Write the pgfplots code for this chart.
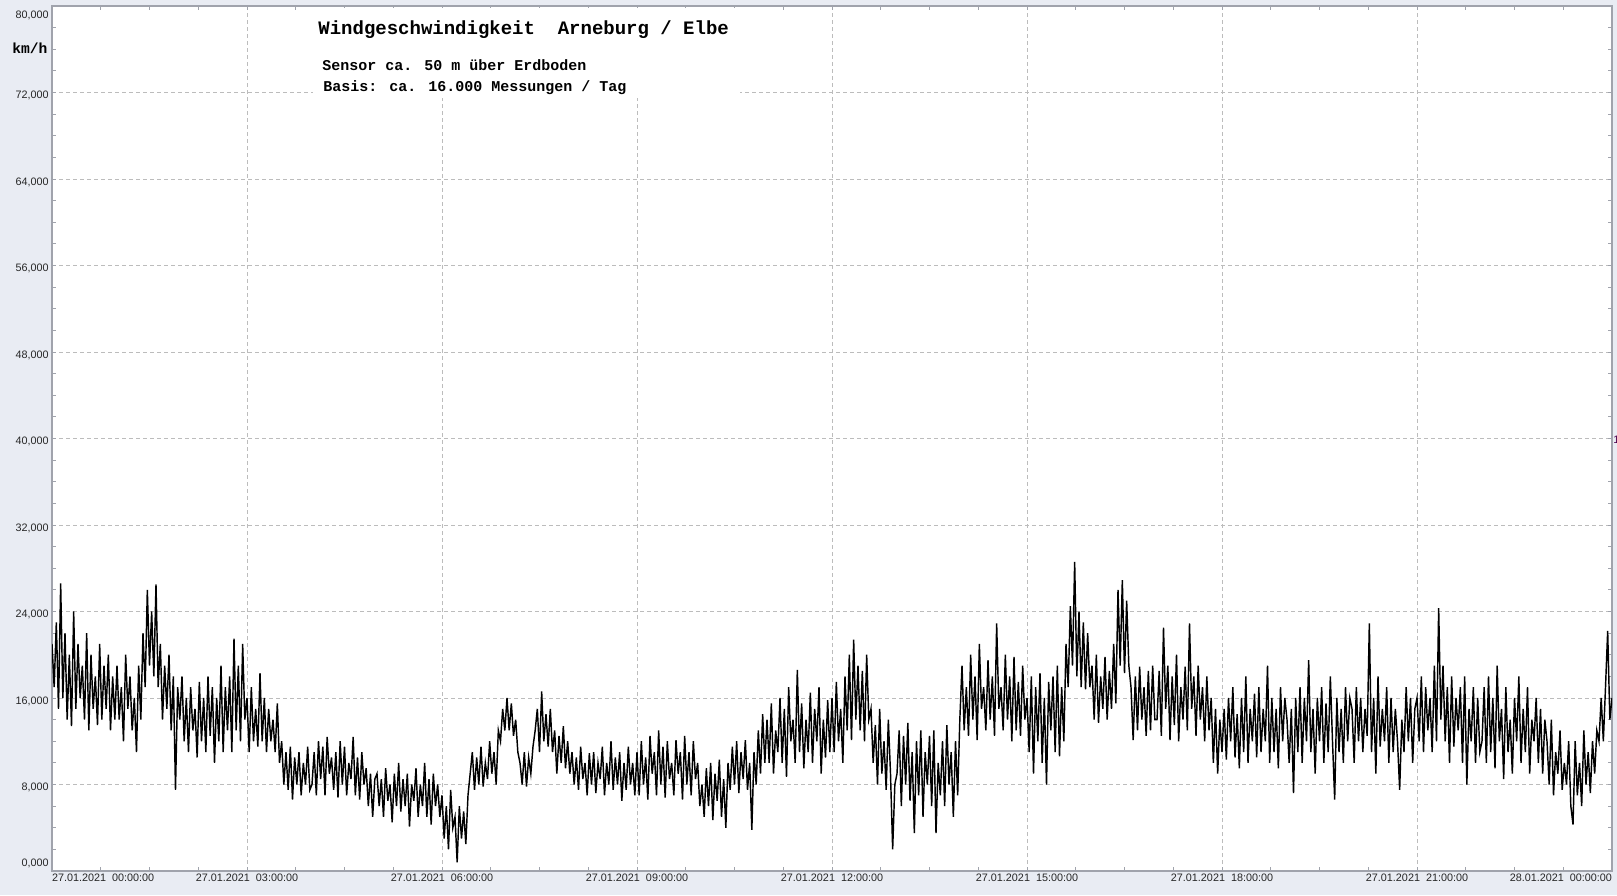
\documentclass[border=0pt]{standalone}
\usepackage{fontspec}
\setmainfont{Liberation Sans}
\newfontfamily\cour{Liberation Mono}
\usepackage{pgfplots}
\usepackage{pgfplotstable}
\pgfplotsset{compat=1.18}

\definecolor{bgpanel}{RGB}{233,236,243}
\definecolor{axgray}{RGB}{160,163,172}
\definecolor{gridgray}{RGB}{188,188,188}

% Windgeschwindigkeit km/h, 30 Werte pro Stunde (alle 2 min)
\pgfplotstableread[row sep=\\]{
v\\
21\\17\\23\\15\\26.6\\16\\22\\14\\20\\13.4\\24\\15\\21\\16\\19\\14\\22\\13\\20\\15\\18\\13.5\\21\\14\\19\\15\\20\\13\\18\\14\\
19\\14\\17\\12\\20\\15\\18\\13\\16\\11\\19\\14\\22\\17\\26\\19\\24\\18\\26.5\\17\\21\\14\\19\\15\\20\\13\\18\\7.5\\17\\14\\
18\\12\\16\\11\\17\\13\\15\\10.5\\17.5\\12\\16\\11\\18\\12.5\\17\\10\\16\\12\\19\\11\\17\\13\\18\\11\\21.5\\13\\19\\12\\21\\14\\
16\\11\\17\\12\\15\\11.5\\18.3\\12\\16\\11\\15\\12\\14\\11\\15.5\\10\\12\\8\\11\\7.5\\11.5\\6.6\\10.5\\8\\11\\7\\10\\8\\11.5\\7.5\\
8\\11\\7\\12\\8.5\\11.5\\7\\12.4\\9\\10.5\\7.5\\11\\6.8\\12\\8\\11.5\\7\\10\\8.5\\12.4\\7\\10.5\\6.6\\11\\8\\9.5\\6\\9\\5\\8.5\\
9\\6\\8.5\\5\\9.5\\6.5\\8\\4.5\\9\\6\\10\\5.5\\8.5\\6\\9\\4.1\\8\\6.5\\9.5\\5\\8\\6\\10\\5\\8.5\\4.3\\9\\6\\8\\5\\
7\\3\\6\\2\\7.5\\4\\5\\0.8\\6\\3\\5.5\\2.5\\7\\9\\11\\7.5\\10.5\\8\\11.5\\7.8\\10\\8.5\\12\\9\\11\\8\\13\\12\\15\\13\\
16\\13\\15.5\\12.5\\14\\11\\10\\8\\11\\7.8\\10.5\\9\\11.5\\13\\15\\11\\16.6\\12\\14.5\\11.5\\15\\11\\13\\9\\12.5\\10\\13.4\\9.5\\12\\9\\
11\\8\\10.5\\7.5\\11.5\\8.5\\10\\7\\10.9\\8\\11\\7.2\\10\\8.5\\11.5\\7\\10\\8\\12\\7.5\\10.5\\8\\11\\6.5\\10\\7.5\\11.5\\8\\10\\7\\
11\\7\\12\\8\\10.5\\6.6\\12.5\\9\\11\\7\\13\\8\\11.5\\6.8\\12\\8.5\\10\\7\\12.1\\9\\11\\6.6\\12.5\\8\\11\\7\\12\\8.5\\10\\6\\
8\\5\\9.5\\6\\10\\4.7\\9\\6.5\\10.3\\5\\8.5\\4\\10\\7.5\\11.5\\8\\12\\7.2\\11\\8.5\\12.1\\7.5\\10\\3.8\\11\\8\\13\\9\\14.5\\10\\
14\\10\\15.5\\9\\13\\11\\16\\10\\15\\8.7\\17\\12\\14\\10\\18.6\\11\\15.5\\9.5\\14\\11\\16.5\\10\\15\\12\\17\\9\\14\\10.5\\15.8\\11\\
16\\11\\17.5\\12\\15\\10\\18\\13\\20\\12.1\\21.4\\14\\19\\13\\18.5\\12\\20\\14\\15\\10\\13.5\\8\\15\\9\\12\\7.5\\14\\9\\2\\8\\
9\\13\\6\\12.5\\8\\13.7\\6.5\\11\\3.5\\12\\7\\13\\5\\11\\8\\12.5\\6\\13\\3.5\\10\\7\\12\\6\\13.5\\8\\11\\5\\12\\7\\14\\
19\\13\\17\\12.5\\20\\14\\18\\12.1\\21\\15\\17\\13\\19.5\\14\\18\\12.5\\22.9\\15\\17\\13\\20\\14\\18\\12\\19.8\\13\\17.5\\12.5\\19\\14\\
16\\11\\18\\9\\17\\12\\18.3\\10\\16\\8\\17.5\\13\\18\\11\\19\\10.6\\17\\12\\21\\17\\24.5\\19\\28.6\\18\\24\\17\\23\\16.8\\22\\17\\
19\\14\\20\\13.7\\18\\15\\19.8\\14\\18.5\\15\\21\\15.5\\26\\19\\26.9\\18.3\\25\\19\\17\\12.1\\18\\13\\18.9\\14\\17\\12.5\\18.5\\13\\19\\14\\
14\\18.5\\12.5\\22.5\\15\\19\\12.1\\18\\13.5\\20\\12\\17\\14\\18.9\\13\\22.9\\15\\18\\12.5\\19\\14\\17\\12\\18\\13\\16\\10\\15\\9\\14\\
11\\15\\10.3\\16\\12\\17\\10.5\\14.5\\9.5\\16\\11\\18\\10\\15\\12\\16.4\\10.5\\17\\11\\15\\12\\19\\10\\16\\11\\15\\9.5\\17\\12\\16\\
14\\10\\15\\7.2\\16\\11\\17\\10\\16\\12\\19.5\\11\\15\\9\\16\\12\\17\\10\\15.5\\11\\18\\12\\6.6\\16\\11\\15\\10\\17\\12\\16\\
15\\10\\17\\12\\16\\11\\15\\12.5\\22.9\\11\\16\\9\\18\\11.5\\15\\12\\17\\10\\16\\11\\15\\12\\7.5\\14\\11\\17\\12\\16\\10\\15\\
16\\12\\18\\11\\17\\13\\16\\11\\19\\12\\24.3\\14\\19\\12\\17\\10\\18\\11.5\\16\\13\\17\\10\\18\\8\\15\\12\\17\\10\\16\\11\\
12\\17\\10\\18\\11\\16\\9.5\\19\\12\\15\\8.5\\17\\11\\14\\9\\16\\12\\18\\10\\15\\11\\17\\9\\14\\12\\16\\10\\15\\9\\14\\
12\\8\\14\\7\\11\\9\\13\\7.5\\10\\8\\12\\6\\4.3\\12\\7\\10\\6\\13\\8\\11\\7.2\\12\\9\\13\\12\\16\\12\\17\\22.2\\14\\
16\\
}\windraw

\begin{document}
\begin{tikzpicture}
\fill[bgpanel] (0,0) rectangle (808.5pt,447.5pt);
\begin{axis}[
    at={(26pt,12pt)}, anchor=south west,
    width=780pt, height=432.5pt, scale only axis,
    xmin=0, xmax=24, ymin=0, ymax=80,
    axis background/.style={fill=white},
    axis line style={axgray, line width=0.7pt},
    xtick={0,3,...,24},
    xticklabels={
        \makebox[0pt][l]{27.01.2021\ \ 00:00:00},
        27.01.2021\ \ 03:00:00, 27.01.2021\ \ 06:00:00,
        27.01.2021\ \ 09:00:00, 27.01.2021\ \ 12:00:00,
        27.01.2021\ \ 15:00:00, 27.01.2021\ \ 18:00:00,
        27.01.2021\ \ 21:00:00,
        \makebox[0pt][r]{28.01.2021\ \ 00:00:00}},
    ytick={0,8,...,80},
    yticklabels={\raisebox{5.2pt}[\height][\depth]{0,000},{8,000},{16,000},{24,000},{32,000},{40,000},{48,000},{56,000},{64,000},{72,000},\raisebox{-3.3pt}[\height][\depth]{80,000}},
    yticklabel style={yshift=-1.5pt, inner sep=1.5pt},
    xticklabel style={inner sep=1.5pt},
    minor x tick num=3, minor y tick num=3,
    tick align=inside,
    major tick length=2pt, minor tick length=2pt,
    tick style={axgray, line width=0.5pt},
    grid=major,
    major grid style={gridgray, line width=0.5pt, dash pattern=on 2pt off 1.5pt},
    ticklabel style={font=\fontsize{5.4}{6}\selectfont, text=black!85},
]
\addplot[black, line width=0.72pt] table[x expr=\coordindex/30, y index=0] {\windraw};
\end{axis}
\fill[white] (156.5pt,398.5pt) rectangle (370pt,443.5pt);
\node[anchor=base west, inner sep=0, font=\cour\bfseries\fontsize{9.5}{11}\selectfont]
    at (159pt,430pt) {Windgeschwindigkeit\ \ Arneburg / Elbe};
\node[anchor=base west, inner sep=0, font=\cour\bfseries\fontsize{7.5}{9}\selectfont]
    at (161pt,412pt) {Sensor ca. 50 m über Erdboden};
\node[anchor=base west, inner sep=0, font=\cour\bfseries\fontsize{7.5}{9}\selectfont]
    at (161.5pt,401.5pt) {Basis: ca. 16.000 Messungen / Tag};
\node[anchor=base west, inner sep=0, font=\cour\bfseries\fontsize{7.3}{9}\selectfont]
    at (6pt,420.5pt) {km/h};
\node[anchor=west, inner sep=0, text=violet!60!black, font=\fontsize{5.4}{6}\selectfont]
    at (806.5pt,227.5pt) {1};
\pgfresetboundingbox
\useasboundingbox (0,0) rectangle (808.5pt,447.5pt);
\end{tikzpicture}
\end{document}
